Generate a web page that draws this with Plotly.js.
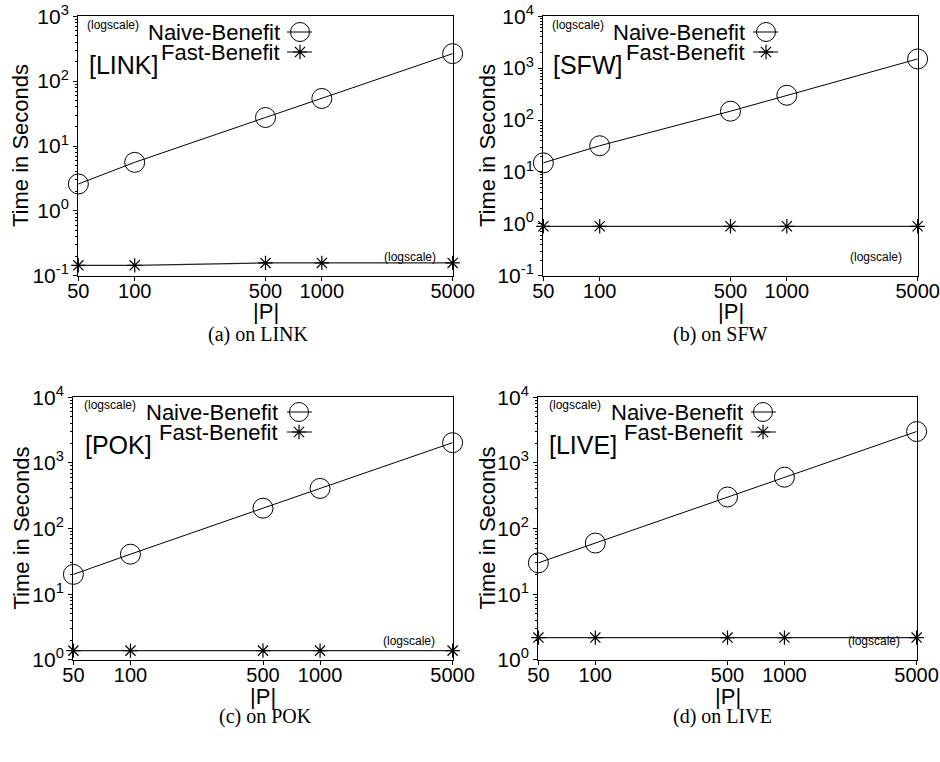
<!DOCTYPE html>
<html>
<head>
<meta charset="utf-8">
<script src="https://cdn.plot.ly/plotly-3.0.1.min.js"></script>
<style>html,body{margin:0;padding:0;background:#fff;}#chart{width:940px;height:762px;}</style>
</head>
<body>
<div id="chart"></div>
<script>
// ---- data ----
const sizesP = [50, 100, 500, 1000, 5000];
const xTickLabels = ["50", "100", "500", "1000", "5000"];
const naiveLINK = [2.6, 5.6, 27.5, 54, 265];
const fastLINK  = [0.145, 0.145, 0.158, 0.158, 0.158];
const naiveSFW  = [15, 32, 148, 300, 1500];
const fastSFW   = [0.9, 0.9, 0.9, 0.9, 0.9];
const naivePOK  = [20, 40.6, 204, 408, 2030];
const fastPOK   = [1.38, 1.38, 1.38, 1.38, 1.38];
const naiveLIVE = [30, 60, 302, 605, 3000];
const fastLIVE  = [2.18, 2.18, 2.18, 2.18, 2.18];
const datasetNames = ["LINK", "SFW", "POK", "LIVE"];
const captions = ["(a) on LINK", "(b) on SFW", "(c) on POK", "(d) on LIVE"];
const seriesNames = ["Naive-Benefit", "Fast-Benefit"];

// ---- layout geometry (pixels) ----
const W = 940, H = 762;
const px = x => x / W, py = y => 1 - y / H;
const panels = [
  {naive: naiveLINK, fast: fastLINK, yexp: [-1, 3], box: [78, 453, 16, 276],
   ytitleX: 21, xtitleY: 312, capX: 258, capY: 335,
   legEnd: 282, legY: [32, 52], samp: [287, 300, 312], topLog: [113, 25], name: [87, 65], botLog: [410, 257]},
  {naive: naiveSFW, fast: fastSFW, yexp: [-1, 4], box: [543, 918, 16, 276],
   ytitleX: 488, xtitleY: 312, capX: 720, capY: 335,
   legEnd: 747, legY: [32, 52], samp: [753, 766, 778], topLog: [578, 25], name: [551, 65], botLog: [876, 257]},
  {naive: naivePOK, fast: fastPOK, yexp: [0, 4], box: [73, 453, 397, 660],
   ytitleX: 21, xtitleY: 696, capX: 265, capY: 716,
   legEnd: 280, legY: [412, 432], samp: [287, 299, 312], topLog: [110, 405], name: [83, 445], botLog: [409, 641]},
  {naive: naiveLIVE, fast: fastLIVE, yexp: [0, 4], box: [538, 917, 397, 660],
   ytitleX: 487, xtitleY: 696, capX: 722, capY: 716,
   legEnd: 745, legY: [412, 432], samp: [751, 763, 776], topLog: [575, 405], name: [547, 445], botLog: [874, 641]}
];

const sansFont = "Liberation Sans, Arial, sans-serif";
const traces = [];
const annotations = [];
const layout = {
  width: W, height: H, autosize: false,
  margin: {l: 0, r: 0, t: 0, b: 0},
  paper_bgcolor: "#fff", plot_bgcolor: "rgba(0,0,0,0)",
  showlegend: false,
  font: {family: sansFont, color: "#000"}
};

panels.forEach((p, i) => {
  const n = i + 1;
  const xa = "x" + (n === 1 ? "" : n), ya = "y" + (n === 1 ? "" : n);
  const xk = "xaxis" + (n === 1 ? "" : n), yk = "yaxis" + (n === 1 ? "" : n);
  const [l, r, t, b] = p.box;

  // y ticks
  const yt = [], ytt = [], ymin = [];
  for (let e = p.yexp[0]; e <= p.yexp[1]; e++) {
    yt.push(Math.pow(10, e));
    ytt.push("10<sup>" + e + "</sup>");
    if (e < p.yexp[1]) for (let m = 2; m <= 9; m++) ymin.push(m * Math.pow(10, e));
  }

  layout[xk] = {
    type: "log", domain: [px(l), px(r)], anchor: ya,
    range: [Math.log10(sizesP[0]) - 0.002, Math.log10(sizesP[sizesP.length - 1]) + 0.002],
    tickmode: "array", tickvals: sizesP, ticktext: xTickLabels,
    ticks: "outside", ticklen: 4, tickwidth: 1, tickcolor: "#000",
    ticklabelstandoff: -7,
    showline: true, linecolor: "#000", linewidth: 1, mirror: true,
    showgrid: false, zeroline: false,
    tickfont: {family: sansFont, size: 20, color: "#000"}, fixedrange: true
  };
  layout[yk] = {
    type: "log", domain: [py(b), py(t)], anchor: xa,
    range: [p.yexp[0] - 0.003, p.yexp[1] + 0.003],
    tickmode: "array", tickvals: yt, ticktext: ytt,
    ticks: "outside", ticklen: 4, tickwidth: 1, tickcolor: "#000",
    minor: {tickmode: "array", tickvals: ymin, ticks: "outside", ticklen: 2, tickwidth: 1, tickcolor: "#000", showgrid: false},
    showline: true, linecolor: "#000", linewidth: 1, mirror: true,
    showgrid: false, zeroline: false,
    tickfont: {family: sansFont, size: 21, color: "#000"}, fixedrange: true
  };

  traces.push({
    x: sizesP, y: p.naive, xaxis: xa, yaxis: ya, name: seriesNames[0],
    mode: "lines+markers", cliponaxis: false,
    line: {color: "#000", width: 1},
    marker: {symbol: "circle-open", size: 20, color: "#000", line: {width: 1, color: "#000"}}
  });
  traces.push({
    x: sizesP, y: p.fast, xaxis: xa, yaxis: ya, name: seriesNames[1],
    mode: "lines+markers", cliponaxis: false,
    line: {color: "#222", width: 1.2},
    marker: {symbol: "asterisk-open", size: 12, color: "#000", line: {width: 1.2, color: "#000"}}
  });

  // legend keys on the full-page overlay axis (pixel coordinates)
  [0, 1].forEach(k => {
    traces.push({
      x: [p.samp[0], p.samp[2]], y: [p.legY[k], p.legY[k]], xaxis: "x9", yaxis: "y9",
      mode: "lines", line: {color: "#000", width: 1}, hoverinfo: "skip", cliponaxis: false
    });
    traces.push({
      x: [p.samp[1]], y: [p.legY[k]], xaxis: "x9", yaxis: "y9", mode: "markers", hoverinfo: "skip", cliponaxis: false,
      marker: k === 0 ? {symbol: "circle-open", size: 19, color: "#000", line: {width: 1, color: "#000"}}
                      : {symbol: "asterisk-open", size: 12, color: "#000", line: {width: 1.2, color: "#000"}}
    });
    annotations.push({
      xref: "paper", yref: "paper", x: px(p.legEnd), y: py(p.legY[k]),
      xanchor: "right", yanchor: "middle", showarrow: false,
      text: seriesNames[k], font: {family: sansFont, size: 22, color: "#000"}
    });
  });

  annotations.push({xref: "paper", yref: "paper", x: px(p.topLog[0]), y: py(p.topLog[1]),
    xanchor: "center", yanchor: "middle", showarrow: false, text: "(logscale)",
    font: {family: sansFont, size: 12, color: "#000"}});
  annotations.push({xref: "paper", yref: "paper", x: px(p.botLog[0]), y: py(p.botLog[1]),
    xanchor: "center", yanchor: "middle", showarrow: false, text: "(logscale)",
    font: {family: sansFont, size: 12, color: "#000"}});
  annotations.push({xref: "paper", yref: "paper", x: px(p.name[0]), y: py(p.name[1]),
    xanchor: "left", yanchor: "middle", showarrow: false, text: "[" + datasetNames[i] + "]",
    font: {family: sansFont, size: 25, color: "#000"}});
  // axis titles
  annotations.push({xref: "paper", yref: "paper", x: px(p.ytitleX), y: py((t + b) / 2),
    xanchor: "center", yanchor: "middle", showarrow: false, textangle: -90, text: "Time in Seconds",
    font: {family: sansFont, size: 22, color: "#000"}});
  annotations.push({xref: "paper", yref: "paper", x: px((l + r) / 2), y: py(p.xtitleY),
    xanchor: "center", yanchor: "middle", showarrow: false, text: "|P|",
    font: {family: sansFont, size: 22, color: "#000"}});
  // caption
  annotations.push({xref: "paper", yref: "paper", x: px(p.capX), y: py(p.capY),
    xanchor: "center", yanchor: "middle", showarrow: false, text: captions[i],
    font: {family: "Liberation Serif, Times New Roman, serif", size: 20, color: "#000"}});
});

layout.xaxis9 = {domain: [0, 1], range: [0, W], visible: false, fixedrange: true, anchor: "y9"};
layout.yaxis9 = {domain: [0, 1], range: [H, 0], visible: false, fixedrange: true, anchor: "x9"};
layout.annotations = annotations;

Plotly.newPlot("chart", traces, layout, {displayModeBar: false, staticPlot: true});
</script>
</body>
</html>
